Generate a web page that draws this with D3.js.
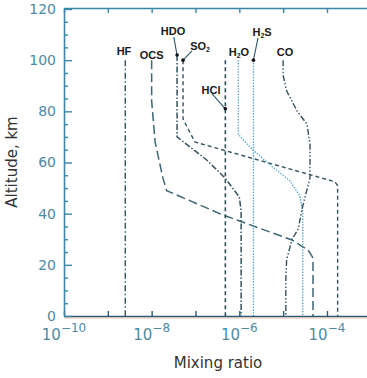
<!DOCTYPE html>
<html>
<head>
<meta charset="utf-8">
<script src="https://cdn.jsdelivr.net/npm/d3@7/dist/d3.min.js"></script>
<style>
  html, body { margin: 0; padding: 0; background: #fff; }
  svg { display: block; }
</style>
</head>
<body>
<svg id="chart" width="367" height="378"></svg>
<script>
// Venus trace gas profiles: [mixing ratio, altitude km]
const HF  = [[2.5e-9, 100], [2.5e-9, 0]];
const OCS = [[1.0e-8, 100], [1.0e-8, 84], [1.2e-8, 68], [1.8e-8, 54], [2.2e-8, 49],
             [4.2e-7, 39.5], [1.6e-5, 29.7], [3.7e-5, 25.8], [4.8e-5, 22.7], [4.8e-5, 0]];
const HDO = [[3.8e-8, 102], [3.8e-8, 70], [1.8e-7, 61], [4.7e-7, 54], [1.0e-6, 46.5],
             [1.1e-6, 41], [1.1e-6, 0]];
const SO2 = [[5.2e-8, 100], [5.2e-8, 77], [9.7e-8, 68], [1.5e-4, 52.5], [1.75e-4, 51], [1.75e-4, 0]];
const H2O = [[9.5e-7, 100], [9.5e-7, 71], [2.0e-6, 65], [6.0e-6, 58], [1.4e-5, 53],
             [2.4e-5, 47], [2.8e-5, 41], [2.8e-5, 0]];
const H2S = [[2.1e-6, 100], [2.1e-6, 0]];
const HCl = [[4.8e-7, 100], [4.8e-7, 0]];
const CO  = [[1.0e-5, 100], [1.0e-5, 94], [1.2e-5, 88], [2.1e-5, 80], [3.5e-5, 75], [4.1e-5, 67],
             [4.1e-5, 54], [2.8e-5, 43], [2.2e-5, 34], [1.6e-5, 30], [1.2e-5, 22], [1.15e-5, 14], [1.15e-5, 0]];

// Axis ticks
const xDecades = [-10, -9, -8, -7, -6, -5, -4, -3];
const xLabelled = [-10, -8, -6, -4];
const yTicks = d3.range(0, 121, 5);
const yLabelled = [0, 20, 40, 60, 80, 100, 120];

// Species labels: text, subscript, suffix, position [ratio, km], optional leader [from, to]
const labels = [
  { t: "HF",  sub: "",  after: "",  at: [2.34e-9, 103.6] },
  { t: "OCS", sub: "",  after: "",  at: [1.0e-8, 102] },
  { t: "HDO", sub: "",  after: "",  at: [3.07e-8, 111.4], leader: [[3.2e-8, 109], [3.8e-8, 102]] },
  { t: "SO",  sub: "2", after: "",  at: [1.27e-7, 105.6], leader: [[8.3e-8, 103.6], [5.2e-8, 100]] },
  { t: "H",   sub: "2", after: "O", at: [9.8e-7, 103.2] },
  { t: "H",   sub: "2", after: "S", at: [3.3e-6, 111], leader: [[2.67e-6, 108.7], [2.1e-6, 100]] },
  { t: "CO",  sub: "",  after: "",  at: [1.1e-5, 103.2] },
  { t: "HCl", sub: "",  after: "",  at: [2.26e-7, 88.4], leader: [[2.4e-7, 86.8], [4.8e-7, 81]] }
];

const svg = d3.select("#chart");
const plotL = 64, plotR = 64 + 7 * 43.83, plotT = 9, plotB = 316;

const x = d3.scaleLog().domain([1e-10, 1e-3]).range([plotL, plotR]);
const y = d3.scaleLinear().domain([0, 120]).range([plotB, plotT]);

const frameCol = "#3b87a8";
const tickText = "#4f8aa3";
const darkLine = "#34525e";
const dotLine = "#3f9dcc";

// profiles
const line = d3.line().x(d => x(d[0])).y(d => y(d[1]));
const series = [
  { data: HF,  color: darkLine, dash: "6,2.5,1.5,2.5", w: 1.4 },
  { data: OCS, color: "#3d6676", dash: "9,4", w: 1.5 },
  { data: HDO, color: darkLine, dash: "6,2,1.5,2", w: 1.5 },
  { data: SO2, color: darkLine, dash: "4,3", w: 1.4 },
  { data: H2O, color: dotLine, dash: "1.3,1.5", w: 1.3 },
  { data: H2S, color: dotLine, dash: "1.3,1.5", w: 1.3 },
  { data: HCl, color: darkLine, dash: "4,3", w: 1.6 },
  { data: CO,  color: darkLine, dash: "6,2,1.5,2,1.5,2", w: 1.4 }
];
svg.append("g").selectAll("path").data(series).join("path")
  .attr("d", d => line(d.data))
  .attr("fill", "none")
  .attr("stroke", d => d.color)
  .attr("stroke-width", d => d.w)
  .attr("stroke-dasharray", d => d.dash);

// bottom axis
const xAxis = d3.axisBottom(x)
  .tickValues(xDecades.map(e => Math.pow(10, e)))
  .tickSizeInner(-5).tickSizeOuter(0)
  .tickFormat("");
const gx = svg.append("g").attr("transform", `translate(0,${plotB})`).call(xAxis);
gx.select(".domain").attr("stroke", "#2a5a6e").attr("stroke-width", 1.6);
gx.selectAll(".tick line").attr("stroke", "#2a5a6e").attr("stroke-width", 1.4);
svg.append("line").attr("x1", plotL).attr("x2", 367).attr("y1", plotB + 2).attr("y2", plotB + 2)
  .attr("stroke", "#f0a890").attr("stroke-width", 1).attr("opacity", 0.7);

const xl = svg.append("g").attr("font-family", "DejaVu Sans").attr("fill", tickText);
xLabelled.forEach(e => {
  const t = xl.append("text").attr("x", x(Math.pow(10, e))).attr("y", plotB + 24)
    .attr("text-anchor", "middle").attr("font-size", 15);
  t.append("tspan").text("10");
  t.append("tspan").attr("dy", -8).attr("font-size", 12).text("\u2212" + Math.abs(e));
});

// top axis
const xTop = d3.axisTop(x)
  .tickValues(xDecades.map(e => Math.pow(10, e)))
  .tickSizeInner(-5).tickSizeOuter(0).tickFormat("");
const gt = svg.append("g").attr("transform", `translate(0,${plotT - 1})`).call(xTop);
gt.select(".domain").attr("stroke", frameCol).attr("stroke-width", 1.6);
gt.selectAll(".tick line").attr("stroke", frameCol).attr("stroke-width", 1.4);

// left axis
const yAxis = d3.axisLeft(y).tickValues(yTicks).tickSizeInner(-4).tickSizeOuter(0)
  .tickFormat(d => yLabelled.includes(d) ? d : "");
const gy = svg.append("g").attr("transform", `translate(${plotL},0)`).call(yAxis);
gy.select(".domain").attr("stroke", frameCol).attr("stroke-width", 1.6);
gy.selectAll(".tick line").attr("stroke", frameCol).attr("stroke-width", 1.4)
  .attr("x2", d => yLabelled.includes(d) ? 8 : 4);
gy.selectAll(".tick text").attr("font-family", "DejaVu Sans").attr("font-size", 14)
  .attr("fill", tickText).attr("x", -8);

// axis titles
svg.append("text").attr("x", 218).attr("y", 368).attr("text-anchor", "middle")
  .attr("font-family", "DejaVu Sans").attr("font-size", 15).attr("fill", "#333")
  .text("Mixing ratio");
svg.append("text").attr("transform", "translate(17,162) rotate(-90)").attr("text-anchor", "middle")
  .attr("font-family", "DejaVu Sans").attr("font-size", 15).attr("fill", "#333")
  .text("Altitude, km");

// species labels with leader lines
const lg = svg.append("g");
labels.forEach(l => {
  if (l.leader) {
    lg.append("line")
      .attr("x1", x(l.leader[0][0])).attr("y1", y(l.leader[0][1]))
      .attr("x2", x(l.leader[1][0])).attr("y2", y(l.leader[1][1]))
      .attr("stroke", "#2f5566").attr("stroke-width", 1.1);
    lg.append("circle").attr("cx", x(l.leader[1][0])).attr("cy", y(l.leader[1][1]))
      .attr("r", 1.8).attr("fill", "#111");
  }
  const t = lg.append("text").attr("x", x(l.at[0])).attr("y", y(l.at[1]) + 4)
    .attr("text-anchor", "middle").attr("font-family", "Liberation Sans")
    .attr("font-weight", "bold").attr("font-size", 11).attr("fill", "#1a1a1a");
  t.append("tspan").text(l.t);
  if (l.sub) t.append("tspan").attr("font-size", 7).attr("dy", 2).text(l.sub);
  if (l.after) t.append("tspan").attr("dy", -2).text(l.after);
});
</script>
</body>
</html>
